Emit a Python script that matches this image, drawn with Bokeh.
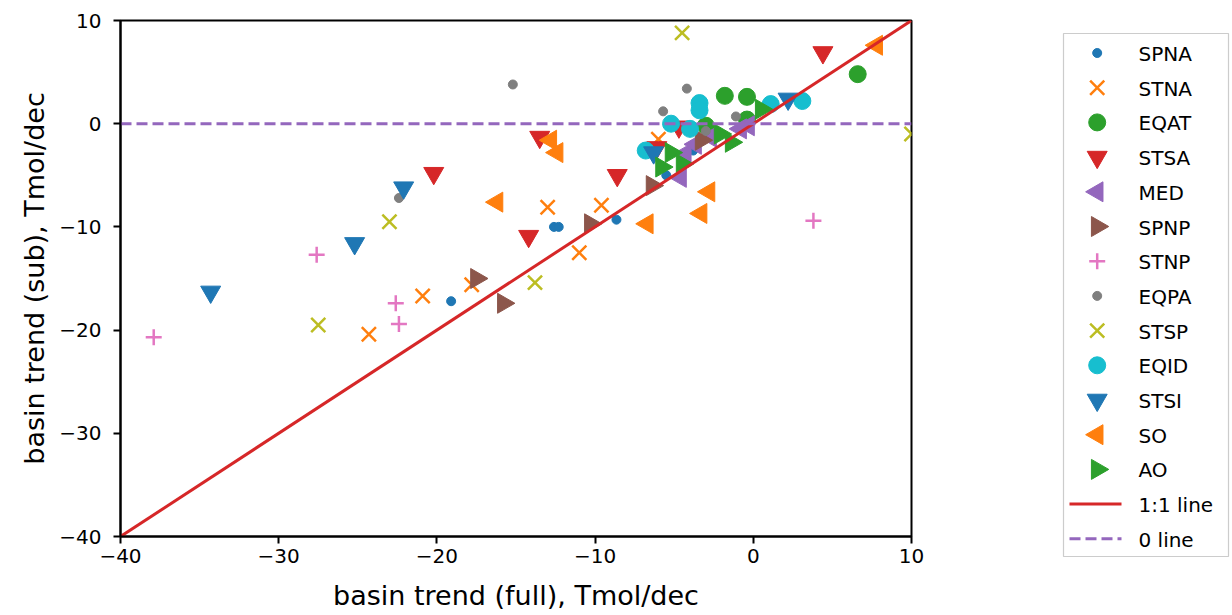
import math
from bokeh.plotting import figure
from bokeh.models import FixedTicker, Range1d
from bokeh.layouts import row
from bokeh.core.properties import value
from bokeh.embed import file_html
from bokeh.resources import INLINE

# ---------------- data ----------------
spna_x = [-19.1, -12.6, -12.3, -8.65, -5.5, -3.8]
spna_y = [-17.2, -10.0, -10.0, -9.3, -5.0, -2.6]

stna_x = [-24.3, -20.9, -17.8, -13.0, -11.0, -9.6, -6.0]
stna_y = [-20.4, -16.7, -15.6, -8.1, -12.5, -7.9, -1.5]

eqat_x = [6.6, -1.8, -0.4, -0.4, -3.0]
eqat_y = [4.8, 2.7, 2.6, 0.4, -0.2]

stsa_x = [-20.2, -14.2, -13.5, -8.6, 4.4, -4.7, -6.1]
stsa_y = [-4.8, -10.9, -1.3, -5.0, 6.9, -0.3, -2.3]

med_x = [-4.6, -4.3, -3.65, -2.7, -0.8, -0.3]
med_y = [-5.2, -2.9, -2.0, -1.3, -0.5, -0.2]

spnp_x = [-15.8, -17.5, -10.3, -6.4, -3.3]
spnp_y = [-17.4, -15.0, -9.7, -6.0, -1.6]

stnp_x = [-37.9, -27.6, -22.6, -22.4, 3.8]
stnp_y = [-20.7, -12.7, -17.4, -19.4, -9.4]

eqpa_x = [-22.4, -15.2, -5.7, -4.2, -1.1, -3.0]
eqpa_y = [-7.2, 3.8, 1.2, 3.4, 0.7, -0.7]

stsp_x = [-27.5, -23.0, -13.8, -4.5, 10.0]
stsp_y = [-19.5, -9.5, -15.4, 8.8, -1.0]

eqid_x = [-6.8, -5.2, -4.0, -3.4, -3.4, 1.1, 3.1]
eqid_y = [-2.6, 0.0, -0.5, 2.0, 1.3, 1.9, 2.2]

stsi_x = [-34.3, -25.2, -22.1, 2.2, -6.3]
stsi_y = [-16.3, -11.6, -6.2, 2.4, -2.8]

so_x = [-16.2, -12.8, -12.4, -6.7, -3.3, -2.8, 7.8]
so_y = [-7.6, -1.6, -2.8, -9.7, -8.7, -6.6, 7.6]

ao_x = [-5.2, -5.8, -4.5, -2.1, -1.4, 0.5]
ao_y = [-2.8, -4.2, -3.9, -1.0, -1.8, 1.4]

line_x = [-40, 10]
one_to_one_y = [-40, 10]
zero_y = [0, 0]

x_ticks = [-40, -30, -20, -10, 0, 10]
y_ticks = [-40, -30, -20, -10, 0, 10]

FONT = "DejaVu Sans"
C = ["#1f77b4", "#ff7f0e", "#2ca02c", "#d62728", "#9467bd",
     "#8c564b", "#e377c2", "#7f7f7f", "#bcbd22", "#17becf"]

# name, xs, ys, marker, color, size, angle, line width
series = [
    ("SPNA", spna_x, spna_y, "circle", C[0], 9, 0.0, 1.0),
    ("STNA", stna_x, stna_y, "x", C[1], 20, 0.0, 2.5),
    ("EQAT", eqat_x, eqat_y, "circle", C[2], 17, 0.0, 1.0),
    ("STSA", stsa_x, stsa_y, "inverted_triangle", C[3], 20, 0.0, 1.0),
    ("MED", med_x, med_y, "triangle", C[4], 20, math.pi / 2, 1.0),
    ("SPNP", spnp_x, spnp_y, "triangle", C[5], 20, -math.pi / 2, 1.0),
    ("STNP", stnp_x, stnp_y, "cross", C[6], 16, 0.0, 2.5),
    ("EQPA", eqpa_x, eqpa_y, "circle", C[7], 9, 0.0, 1.0),
    ("STSP", stsp_x, stsp_y, "x", C[8], 20, 0.0, 2.5),
    ("EQID", eqid_x, eqid_y, "circle", C[9], 17, 0.0, 1.0),
    ("STSI", stsi_x, stsi_y, "inverted_triangle", C[0], 20, 0.0, 1.0),
    ("SO", so_x, so_y, "triangle", C[1], 20, math.pi / 2, 1.0),
    ("AO", ao_x, ao_y, "triangle", C[2], 20, -math.pi / 2, 1.0),
]

TOP, FH, BOTTOM = 20, 516, 95
p = figure(frame_width=791, frame_height=FH, x_range=(-40, 10), y_range=(-40, 10),
           output_backend="svg", toolbar_location=None,
           min_border_left=120, min_border_top=TOP, min_border_right=139,
           min_border_bottom=BOTTOM)
p.title.visible = False
p.grid.visible = False
p.background_fill_color = "white"
p.border_fill_color = "white"
p.outline_line_color = "black"
p.outline_line_width = 2
p.outline_line_alpha = 1

def tick_label(v):
    return ("\u2212" + str(abs(v))) if v < 0 else str(v)

for ax, ticks in ((p.xaxis, x_ticks), (p.yaxis, y_ticks)):
    ax.ticker = FixedTicker(ticks=ticks)
    ax.major_label_overrides = {t: tick_label(t) for t in ticks}
    ax.minor_tick_line_color = None
    ax.major_tick_in = 0
    ax.major_tick_out = 7
    ax.major_tick_line_width = 2
    ax.axis_line_width = 2
    ax.axis_line_color = "black"
    ax.major_tick_line_color = "black"
    ax.major_label_text_font = FONT
    ax.major_label_text_font_size = "20px"
    ax.major_label_text_color = "black"
    ax.axis_label_text_font = FONT
    ax.axis_label_text_font_size = "27px"
    ax.axis_label_text_font_style = "normal"
    ax.axis_label_text_color = "black"

p.xaxis.axis_label = "basin trend (full), Tmol/dec"
p.yaxis.axis_label = "basin trend (sub), Tmol/dec"
p.xaxis.major_label_standoff = 5
p.xaxis.axis_label_standoff = 14
p.yaxis.major_label_standoff = 12
p.yaxis.axis_label_standoff = 6

for name, xs, ys, marker, color, size, angle, lw in series:
    p.scatter(x=xs, y=ys, marker=marker, size=size, fill_color=color,
              line_color=color, line_width=lw, angle=angle)

p.line(x=line_x, y=one_to_one_y, line_color=C[3], line_width=3)
p.line(x=line_x, y=zero_y, line_color=C[4], line_width=3, line_dash="11 5")

# ---------------- legend panel (pixel coordinates, y downward) ----------------
# The row layout aligns this panel's frame with the main frame (which starts
# TOP px below the page top), so page y positions are shifted by -TOP here.
LW = 182
LH = FH + BOTTOM
lg = figure(frame_width=LW, frame_height=LH, x_range=Range1d(0, LW), y_range=Range1d(LH, 0),
            output_backend="svg", toolbar_location=None,
            min_border=0, min_border_left=0, min_border_right=0,
            min_border_top=TOP, min_border_bottom=0)
lg.title.visible = False
lg.axis.visible = False
lg.grid.visible = False
lg.outline_line_color = None
lg.background_fill_color = "white"
lg.border_fill_color = "white"

box_left, box_right, box_top, box_bottom = 13, 178, 33 - TOP, 556 - TOP
lg.quad(left=[box_left], right=[box_right], top=[box_top], bottom=[box_bottom],
        fill_color="white", line_color="#cccccc", line_width=1.2)

step = 34.7
y0 = 52.5 - TOP
mx = 46.7
tx = 88
labels = [s[0] for s in series] + ["1:1 line", "0 line"]
for i, (name, xs, ys, marker, color, size, angle, lw) in enumerate(series):
    lg.scatter(x=[mx], y=[y0 + i * step], marker=marker, size=size, fill_color=color,
               line_color=color, line_width=lw, angle=angle)
n = len(series)
lg.line(x=[19, 71], y=[y0 + n * step] * 2, line_color=C[3], line_width=3)
lg.line(x=[19, 71], y=[y0 + (n + 1) * step] * 2, line_color=C[4], line_width=3,
        line_dash="11 5")
lg.text(x=[tx] * len(labels), y=[y0 + i * step + 1 for i in range(len(labels))],
        text=labels, text_font=value(FONT), text_font_size="20px",
        text_baseline="middle", text_align="left", text_color="black")

layout = row(p, lg, spacing=0)
open("out.html", "w").write(file_html(layout, INLINE))
